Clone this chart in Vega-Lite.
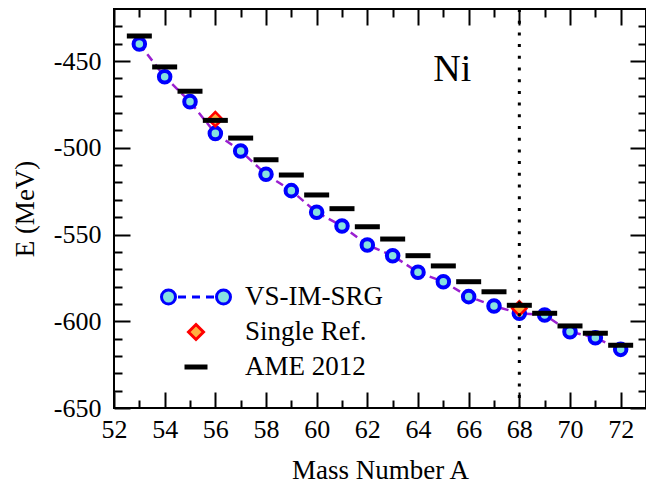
{
  "$schema": "https://vega.github.io/schema/vega-lite/v6.json",
  "width": 532,
  "height": 399,
  "autosize": "none",
  "padding": {"left": 114, "top": 9, "right": 0, "bottom": 77},
  "background": "white",
  "config": {
    "view": {"stroke": "black", "strokeWidth": 2},
    "axis": {
      "domain": false,
      "grid": false,
      "tickColor": "black",
      "tickWidth": 2,
      "labelFont": "Liberation Serif",
      "labelFontSize": 26,
      "labelColor": "black",
      "labelOverlap": false,
      "labelFlush": false,
      "titleFont": "Liberation Serif",
      "titleFontSize": 27,
      "titleFontWeight": "normal",
      "titleColor": "black"
    }
  },
  "datasets": {
    "vs": [
      {"A": 53, "E": -440.2}, {"A": 54, "E": -459.0}, {"A": 55, "E": -473.4}, {"A": 56, "E": -491.7},
      {"A": 57, "E": -501.8}, {"A": 58, "E": -515.3}, {"A": 59, "E": -524.7}, {"A": 60, "E": -537.2},
      {"A": 61, "E": -545.1}, {"A": 62, "E": -556.0}, {"A": 63, "E": -562.2}, {"A": 64, "E": -571.8},
      {"A": 65, "E": -577.2}, {"A": 66, "E": -585.8}, {"A": 67, "E": -591.2}, {"A": 68, "E": -595.4},
      {"A": 69, "E": -596.4}, {"A": 70, "E": -606.0}, {"A": 71, "E": -609.5}, {"A": 72, "E": -616.2}
    ],
    "single": [
      {"A": 56, "E": -483.5}, {"A": 68, "E": -592.6}
    ],
    "ame": [
      {"A": 53, "E": -435.6}, {"A": 54, "E": -453.4}, {"A": 55, "E": -467.4}, {"A": 56, "E": -484.2},
      {"A": 57, "E": -494.4}, {"A": 58, "E": -506.9}, {"A": 59, "E": -515.7}, {"A": 60, "E": -527.2},
      {"A": 61, "E": -535.1}, {"A": 62, "E": -545.5}, {"A": 63, "E": -552.6}, {"A": 64, "E": -562.2},
      {"A": 65, "E": -568.1}, {"A": 66, "E": -577.2}, {"A": 67, "E": -583.0}, {"A": 68, "E": -590.8},
      {"A": 69, "E": -595.4}, {"A": 70, "E": -602.7}, {"A": 71, "E": -606.9}, {"A": 72, "E": -613.8}
    ],
    "marker": [{"A": 68}],
    "note": [{"A": 65.35, "E": -455.2, "label": "Ni"}],
    "legendseries": []
  },
  "resolve": {"axis": {"x": "independent", "y": "independent"}},
  "layer": [
    {
      "data": {"name": "vs"},
      "mark": {"type": "line", "color": "#9a1fd0", "strokeWidth": 2.5, "strokeDash": [8, 5]},
      "encoding": {
        "x": {
          "field": "A", "type": "quantitative",
          "scale": {"domain": [52, 73], "nice": false, "zero": false},
          "axis": {
            "orient": "bottom",
            "values": [52,53,54,55,56,57,58,59,60,61,62,63,64,65,66,67,68,69,70,71,72],
            "tickSize": {"condition": {"test": "datum.value % 2 === 0", "value": -16}, "value": -8},
            "labelExpr": "datum.value % 2 === 0 ? datum.label : ''",
            "labelPadding": 24,
            "title": "Mass Number A",
            "titlePadding": 7
          }
        },
        "y": {
          "field": "E", "type": "quantitative",
          "scale": {"domain": [-650, -420], "nice": false, "zero": false},
          "axis": {
            "orient": "left",
            "values": [-650,-640,-630,-620,-610,-600,-590,-580,-570,-560,-550,-540,-530,-520,-510,-500,-490,-480,-470,-460,-450,-440,-430],
            "tickSize": {"condition": {"test": "datum.value % 50 === 0", "value": -16}, "value": -8},
            "labelExpr": "datum.value % 50 === 0 ? '' + datum.value : ''",
            "labelPadding": 29,
            "title": "E (MeV)",
            "titlePadding": 14
          }
        }
      }
    },
    {
      "data": {"name": "vs"},
      "mark": {"type": "point", "shape": "circle", "size": 133, "filled": true, "fill": "#86e2e0", "stroke": "#0000ff", "strokeWidth": 4, "opacity": 1},
      "encoding": {
        "x": {
          "field": "A", "type": "quantitative",
          "axis": {
            "orient": "top",
            "values": [52,53,54,55,56,57,58,59,60,61,62,63,64,65,66,67,68,69,70,71,72],
            "tickSize": {"condition": {"test": "datum.value % 2 === 0", "value": -16}, "value": -8},
            "labels": false,
            "title": null
          }
        },
        "y": {
          "field": "E", "type": "quantitative",
          "axis": {
            "orient": "right",
            "values": [-650,-640,-630,-620,-610,-600,-590,-580,-570,-560,-550,-540,-530,-520,-510,-500,-490,-480,-470,-460,-450,-440,-430],
            "tickSize": {"condition": {"test": "datum.value % 50 === 0", "value": -16}, "value": -8},
            "labels": false,
            "title": null
          }
        }
      }
    },
    {
      "data": {"name": "single"},
      "mark": {"type": "point", "shape": "diamond", "size": 200, "filled": true, "fill": "#ffb040", "stroke": "#ff0000", "strokeWidth": 2.5, "opacity": 1},
      "encoding": {
        "x": {"field": "A", "type": "quantitative", "axis": null},
        "y": {"field": "E", "type": "quantitative", "axis": null}
      }
    },
    {
      "data": {"name": "ame"},
      "mark": {"type": "tick", "orient": "horizontal", "size": 25, "thickness": 5, "color": "black", "opacity": 1},
      "encoding": {
        "x": {"field": "A", "type": "quantitative", "axis": null},
        "y": {"field": "E", "type": "quantitative", "axis": null}
      }
    },
    {
      "data": {"name": "marker"},
      "mark": {"type": "rule", "color": "black", "strokeWidth": 3, "strokeDash": [3, 8.7]},
      "encoding": {
        "x": {"field": "A", "type": "quantitative", "axis": null}
      }
    },
    {
      "data": {"name": "note"},
      "mark": {"type": "text", "font": "Liberation Serif", "fontSize": 38, "color": "black", "align": "center", "baseline": "middle"},
      "encoding": {
        "x": {"field": "A", "type": "quantitative", "axis": null},
        "y": {"field": "E", "type": "quantitative", "axis": null},
        "text": {"field": "label"}
      }
    },
    {
      "data": {"name": "legendseries"},
      "mark": {"type": "point", "filled": true, "opacity": 1},
      "encoding": {
        "fill": {
          "field": "series", "type": "nominal",
          "scale": {"domain": ["VS-IM-SRG", "Single Ref.", "AME 2012"], "range": ["#86e2e0", "#ffb040", "black"]},
          "legend": {"title": null, "orient": "none", "legendX": 68.5, "legendY": 274.5, "padding": 0, "symbolSize": 400, "symbolStrokeWidth": 3, "symbolOffset": 0, "labelOffset": 35.5, "labelFont": "Liberation Serif", "labelFontSize": 27, "labelColor": "black", "rowPadding": 7}
        },
        "stroke": {
          "field": "series", "type": "nominal",
          "scale": {"domain": ["VS-IM-SRG", "Single Ref.", "AME 2012"], "range": ["#0000ff", "#ff0000", "black"]},
          "legend": {"title": null, "orient": "none", "legendX": 68.5, "legendY": 274.5, "padding": 0, "symbolSize": 400, "symbolStrokeWidth": 3, "symbolOffset": 0, "labelOffset": 35.5, "labelFont": "Liberation Serif", "labelFontSize": 27, "labelColor": "black", "rowPadding": 7}
        },
        "shape": {
          "field": "series", "type": "nominal",
          "scale": {"domain": ["VS-IM-SRG", "Single Ref.", "AME 2012"], "range": [
            "M-3.45,0A0.7,0.7,0,1,0,-2.05,0A0.7,0.7,0,1,0,-3.45,0Z M2.05,0A0.7,0.7,0,1,0,3.45,0A0.7,0.7,0,1,0,2.05,0Z M-1.8,0H-1M-0.4,0H0.4M1,0H1.8",
            "M0,-0.75L0.75,0L0,0.75L-0.75,0Z",
            "M-1,-0.1H1V0.1H-1Z"
          ]},
          "legend": {"title": null, "orient": "none", "legendX": 68.5, "legendY": 274.5, "padding": 0, "symbolSize": 400, "symbolStrokeWidth": 3, "symbolOffset": 0, "labelOffset": 35.5, "labelFont": "Liberation Serif", "labelFontSize": 27, "labelColor": "black", "rowPadding": 7}
        }
      }
    }
  ]
}
